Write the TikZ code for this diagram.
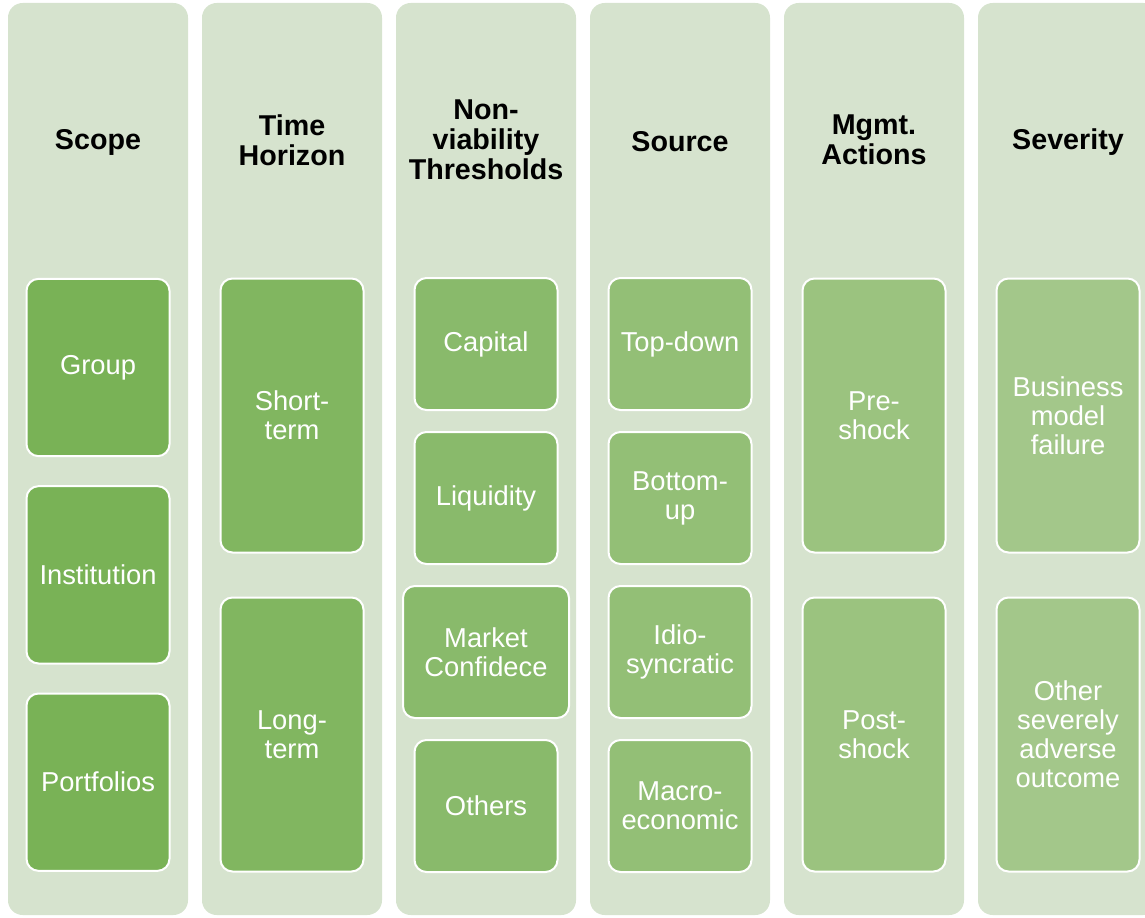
\documentclass[tikz,border=0pt]{standalone}
\usepackage{fontspec}
\setmainfont{Liberation Sans}
\usepackage{tikz}
\usetikzlibrary{positioning}

\definecolor{colbg}{HTML}{D6E3CE}
\definecolor{scopegreen}{HTML}{79B256}
\definecolor{horizongreen}{HTML}{81B660}
\definecolor{thresholdgreen}{HTML}{89BA6B}
\definecolor{sourcegreen}{HTML}{93BF76}
\definecolor{actiongreen}{HTML}{9BC37F}
\definecolor{severitygreen}{HTML}{A3C78A}

\tikzset{
  column/.style = {fill=colbg, rounded corners=11pt, inner sep=0pt,
                   minimum width=135pt, minimum height=684pt},
  head/.style   = {font=\bfseries\fontsize{21.5}{22.5}\selectfont, align=center, text=black},
  item/.style   = {draw=white, line width=1.5pt, rounded corners=9pt, inner sep=0pt,
                   text=white, align=center, minimum width=107.25pt,
                   font=\fontsize{20.5}{21.75}\selectfont},
  three/.style  = {item, minimum height=133pt},
  two/.style    = {item, minimum height=205.5pt},
  four/.style   = {item, minimum height=99pt}
}

\begin{document}
\begin{tikzpicture}[x=0.75pt,y=-0.75pt]
\useasboundingbox (0,0) rectangle (1145,917);
\clip (0,0) rectangle (1145,917);

% columns
\node[column] (scopecol)     at (98,459)   {};
\node[column] (horizoncol)   at (292,459)  {};
\node[column] (thresholdcol) at (486,459)  {};
\node[column] (sourcecol)    at (680,459)  {};
\node[column] (actioncol)    at (874,459)  {};
\node[column] (severitycol)  at (1068,459) {};

% headers
\node[head] (scopehead)     at (98,142)   {Scope};
\node[head] (horizonhead)   at (292,140)  {Time\\Horizon};
\node[head] (thresholdhead) at (486,140)  {Non-\\viability\\Thresholds};
\node[head] (sourcehead)    at (680,142)  {Source};
\node[head] (actionhead)    at (874,140)  {Mgmt.\\Actions};
\node[head] (severityhead)  at (1068,142) {Severity};

% scope
\node[three, fill=scopegreen] (group) at (98,367.5) {Group};
\node[three, fill=scopegreen, below=21pt of group] (institution) {Institution};
\node[three, fill=scopegreen, below=21pt of institution] (portfolios) {Portfolios};

% time horizon
\node[two, fill=horizongreen] (short) at (292,415.5) {Short-\\term};
\node[two, fill=horizongreen, below=32.25pt of short] (long) {Long-\\term};

% non-viability thresholds
\node[four, fill=thresholdgreen] (capital) at (486,344) {Capital};
\node[four, fill=thresholdgreen, below=15pt of capital] (liquidity) {Liquidity};
\node[four, fill=thresholdgreen, minimum width=124.5pt, below=15pt of liquidity] (market) {Market\\Confidece};
\node[four, fill=thresholdgreen, below=15pt of market] (others) {Others};

% source
\node[four, fill=sourcegreen] (topdown) at (680,344) {Top-down};
\node[four, fill=sourcegreen, below=15pt of topdown] (bottomup) {Bottom-\\up};
\node[four, fill=sourcegreen, below=15pt of bottomup] (idio) {Idio-\\syncratic};
\node[four, fill=sourcegreen, below=15pt of idio] (macro) {Macro-\\economic};

% management actions
\node[two, fill=actiongreen] (pre) at (874,415.5) {Pre-\\shock};
\node[two, fill=actiongreen, below=32.25pt of pre] (post) {Post-\\shock};

% severity
\node[two, fill=severitygreen] (failure) at (1068,415.5) {Business\\model\\failure};
\node[two, fill=severitygreen, below=32.25pt of failure] (adverse) {Other\\severely\\adverse\\outcome};
\end{tikzpicture}
\end{document}
